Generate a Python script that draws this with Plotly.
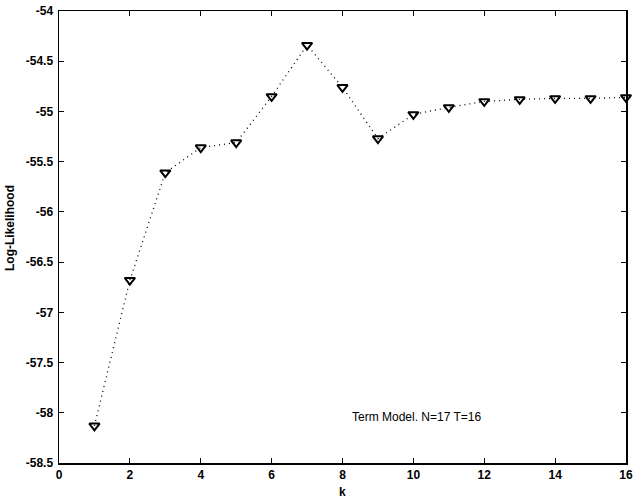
import plotly.graph_objects as go

k = list(range(1, 17))
loglik = [-58.13, -56.68, -55.61, -55.36, -55.31, -54.85, -54.34, -54.76,
          -55.27, -55.03, -54.96, -54.90, -54.88, -54.87, -54.87, -54.86]

x_ticks = [0, 2, 4, 6, 8, 10, 12, 14, 16]
y_ticks = [-54, -54.5, -55, -55.5, -56, -56.5, -57, -57.5, -58, -58.5]
y_tick_text = ["-54", "-54.5", "-55", "-55.5", "-56", "-56.5", "-57", "-57.5", "-58", "-58.5"]

annotation_text = "Term Model. N=17 T=16"
x_title = "k"
y_title = "Log-Likelihood"

font_family = "Liberation Sans, Arial, sans-serif"
bold_font = dict(family=font_family, size=12, color="black", weight="bold")

fig = go.Figure()
fig.add_trace(go.Scatter(
    x=k, y=loglik, mode="lines+markers",
    line=dict(color="black", width=1.3, dash="1px,4px"),
    marker=dict(symbol="triangle-down-open", size=9, color="black",
                line=dict(width=2, color="black")),
    showlegend=False, cliponaxis=False,
))

fig.add_annotation(x=8.22, y=-58.04, xref="x", yref="y", text=annotation_text,
                   showarrow=False, xanchor="left", yanchor="middle",
                   font=dict(family=font_family, size=12, color="black"))

fig.add_annotation(x=0.5, y=0, xref="paper", yref="paper", text=x_title,
                   showarrow=False, xanchor="center", yanchor="top", yshift=-20,
                   font=bold_font)
fig.add_annotation(x=0, y=0.52, xref="paper", yref="paper", text=y_title,
                   showarrow=False, xanchor="center", yanchor="middle", xshift=-49,
                   textangle=-90, font=bold_font)

axis_common = dict(
    showline=True, linecolor="black", linewidth=1.5, mirror="ticks",
    ticks="inside", ticklen=5, tickwidth=1, tickcolor="black",
    showgrid=False, zeroline=False, automargin=False,
    tickfont=bold_font,
)

fig.update_xaxes(range=[0, 16], tickvals=x_ticks, **axis_common)
fig.update_yaxes(range=[-58.5, -54], tickvals=y_ticks, ticktext=y_tick_text,
                 ticklabelstandoff=2, **axis_common)

fig.update_layout(
    width=633, height=498,
    margin=dict(l=59, r=7, t=11, b=35),
    paper_bgcolor="white", plot_bgcolor="white",
    font=dict(family=font_family, color="black"),
    hovermode=False,
)

fig.write_html("out.html",
               config={"displayModeBar": False, "staticPlot": True},
               post_script="document.body.style.margin='0';document.body.style.overflow='hidden';")
